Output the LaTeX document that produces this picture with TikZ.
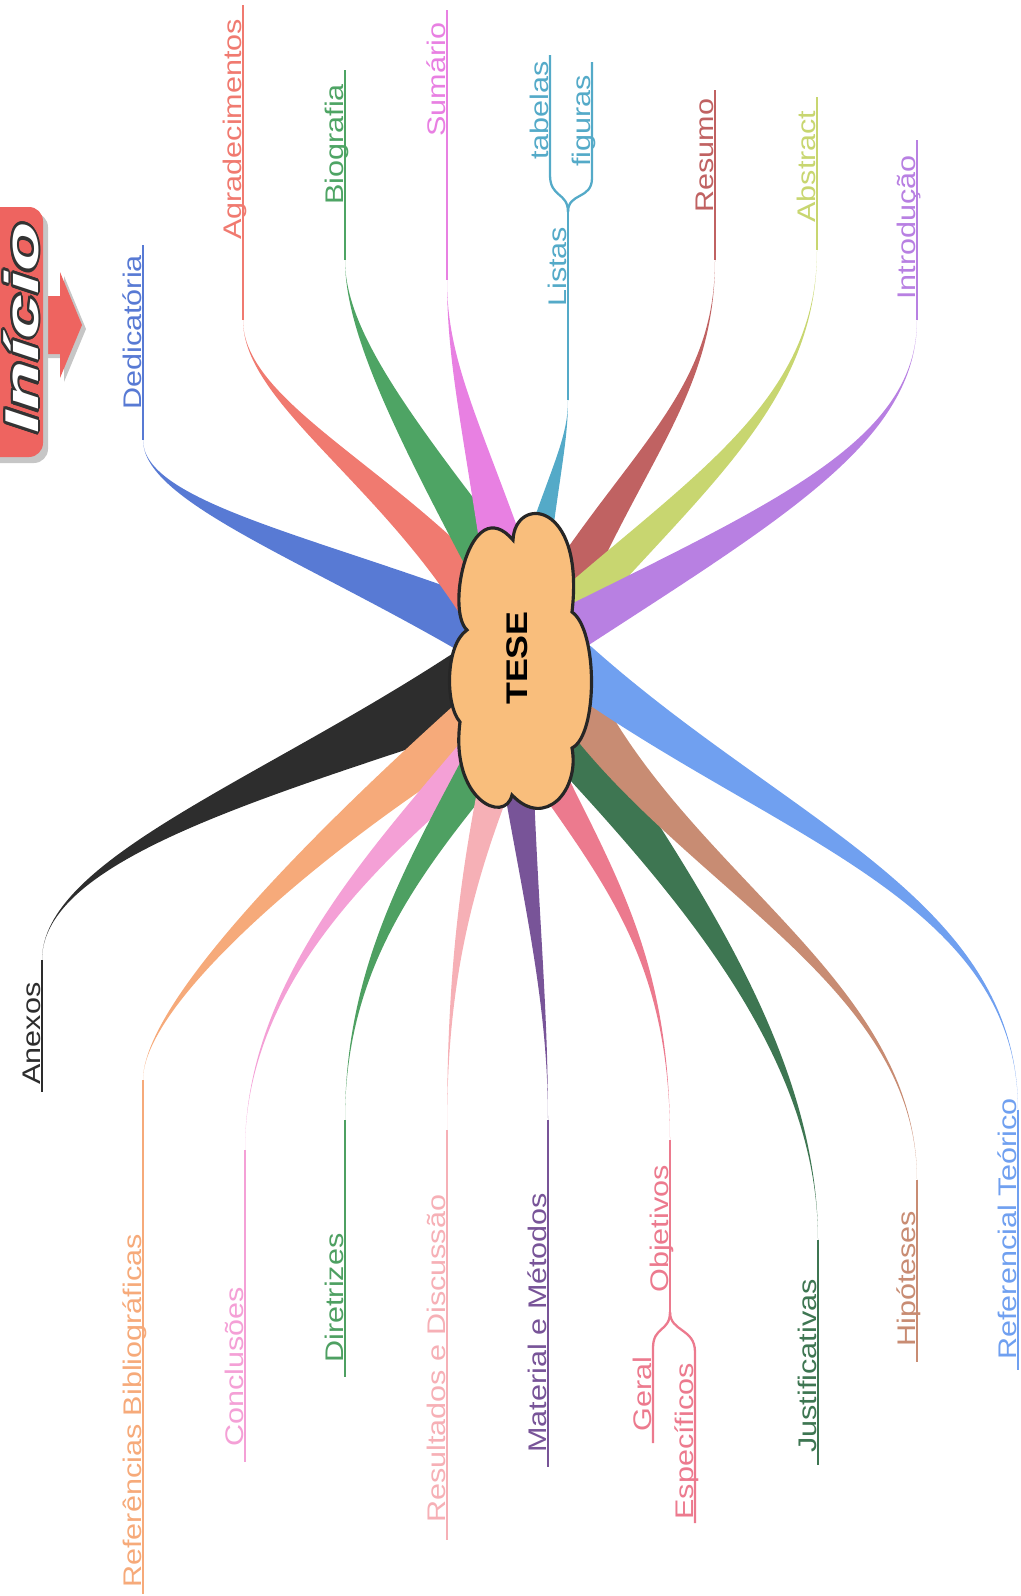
\documentclass[tikz,border=0pt]{standalone}
\usepackage{fontspec}
\setmainfont{Liberation Sans}
\newfontfamily\lblfont[FakeStretch=1.2]{Liberation Sans}
\usepackage{graphicx}
\usepackage[copies]{contour}
\contourlength{1.1pt}
\usepackage{tikz}
\usetikzlibrary{calc}

\definecolor{cDed}{RGB}{88,122,212}
\definecolor{cAgr}{RGB}{240,122,112}
\definecolor{cBio}{RGB}{78,164,100}
\definecolor{cSum}{RGB}{232,128,226}
\definecolor{cLis}{RGB}{84,170,200}
\definecolor{cRes}{RGB}{192,98,98}
\definecolor{cAbs}{RGB}{200,214,112}
\definecolor{cInt}{RGB}{184,128,226}
\definecolor{cAne}{RGB}{45,45,45}
\definecolor{cRBi}{RGB}{246,170,122}
\definecolor{cCon}{RGB}{244,160,214}
\definecolor{cDir}{RGB}{78,160,98}
\definecolor{cRDi}{RGB}{246,176,182}
\definecolor{cMat}{RGB}{120,84,152}
\definecolor{cObj}{RGB}{236,122,142}
\definecolor{cJus}{RGB}{62,118,82}
\definecolor{cHip}{RGB}{200,140,115}
\definecolor{cRTe}{RGB}{112,160,240}
\definecolor{cloudfill}{RGB}{249,190,124}
\definecolor{inired}{RGB}{238,100,96}

% colour, half width at start, half width at first control, start, first control, second control, end
\newcommand{\ribbon}[7]{%
  \fill[#1] ($(#4)!#2!90:(#5)$) .. controls ($(#5)!#3!-90:(#4)$) and (#6) .. (#7)
    .. controls (#6) and ($(#5)!#3!90:(#4)$) .. ($(#4)!#2!-90:(#5)$) -- cycle;}

\begin{document}
\begin{tikzpicture}[x=0.02cm, y=0.02cm,
    lbl/.style={rotate=90, anchor=base west, font=\lblfont\fontsize{14.5}{17}\selectfont},
    twig/.style={line width=1.3pt}]
			\tikzstyle{every node}+=[inner sep=0pt]
			\useasboundingbox (0,0) rectangle (1021,-1596);
			% start
			\fill [gray!45] (47,-300) -- (64,-300) -- (64,-276) -- (86,-329) -- (64,-382) -- (64,-358) -- (47,-358) -- cycle;
			\fill [inired] (43,-296) -- (60,-296) -- (60,-272) -- (82,-325) -- (60,-378) -- (60,-354) -- (43,-354) -- cycle;
			\fill [gray!45, rounded corners=8] (-20,-213) rectangle (48,-463);
			\fill [inired, rounded corners=8] (-20,-207) rectangle (43,-457);
			\node [rotate=90, text=white, font=\fontsize{27}{30}\selectfont\bfseries\itshape] (inicio) at (22,-328) {\scalebox{1.7}[1]{\contour{black!80}{Início}}};
			% end points of the ribbons
			\coordinate (dedA) at (143,-440);
			\coordinate (agrA) at (243,-320);
			\coordinate (bioA) at (345,-260);
			\coordinate (sumA) at (447,-280);
			\coordinate (lisA) at (568,-400);
			\coordinate (resA) at (715,-260);
			\coordinate (absA) at (817,-250);
			\coordinate (intA) at (917,-320);
			\coordinate (aneA) at (42,-960);
			\coordinate (rbiA) at (143,-1080);
			\coordinate (conA) at (245,-1150);
			\coordinate (dirA) at (345,-1120);
			\coordinate (rdiA) at (447,-1130);
			\coordinate (matA) at (548,-1120);
			\coordinate (objA) at (670,-1140);
			\coordinate (jusA) at (818,-1240);
			\coordinate (hipA) at (917,-1180);
			\coordinate (rteA) at (1018,-1110);
			% ribbons
			\ribbon{cDed}{16pt}{7pt}{470,-625}{300,-545}{143,-500}{dedA}
			\ribbon{cAgr}{14pt}{6pt}{480,-600}{380,-470}{243,-400}{agrA}
			\ribbon{cBio}{14pt}{6pt}{490,-560}{400,-420}{345,-330}{bioA}
			\ribbon{cSum}{13pt}{5pt}{505,-560}{470,-420}{447,-360}{sumA}
			\ribbon{cLis}{8pt}{3pt}{535,-560}{555,-470}{568,-440}{lisA}
			\ribbon{cRes}{13pt}{5pt}{560,-600}{640,-450}{715,-390}{resA}
			\ribbon{cAbs}{12pt}{5pt}{565,-615}{700,-480}{817,-400}{absA}
			\ribbon{cInt}{13pt}{5pt}{570,-630}{780,-510}{917,-440}{intA}
			\ribbon{cAne}{22pt}{5pt}{470,-688}{260,-790}{42,-860}{aneA}
			\ribbon{cRBi}{16pt}{6pt}{485,-715}{330,-830}{143,-1000}{rbiA}
			\ribbon{cCon}{12pt}{4pt}{490,-740}{380,-850}{245,-980}{conA}
			\ribbon{cDir}{13pt}{5pt}{495,-745}{420,-860}{345,-960}{dirA}
			\ribbon{cRDi}{11pt}{4pt}{505,-750}{465,-880}{447,-980}{rdiA}
			\ribbon{cMat}{10pt}{4pt}{515,-750}{530,-900}{548,-1000}{matA}
			\ribbon{cObj}{10pt}{4pt}{540,-760}{610,-880}{670,-960}{objA}
			\ribbon{cJus}{17pt}{7pt}{555,-720}{680,-880}{818,-1050}{jusA}
			\ribbon{cHip}{14pt}{5pt}{570,-690}{680,-880}{917,-980}{hipA}
			\ribbon{cRTe}{14pt}{6pt}{575,-665}{780,-830}{1018,-900}{rteA}
			% free ends of the lines
			\coordinate (dedB) at (143,-245);
			\coordinate (agrB) at (243,-5);
			\coordinate (bioB) at (345,-70);
			\coordinate (sumB) at (447,-10);
			\coordinate (lisB) at (568,-212);
			\coordinate (tabB) at (550,-55);
			\coordinate (figB) at (592,-62);
			\coordinate (resB) at (715,-90);
			\coordinate (absB) at (817,-97);
			\coordinate (intB) at (917,-140);
			\coordinate (aneB) at (42,-1092);
			\coordinate (rbiB) at (143,-1594);
			\coordinate (conB) at (245,-1462);
			\coordinate (dirB) at (345,-1377);
			\coordinate (rdiB) at (447,-1540);
			\coordinate (matB) at (548,-1467);
			\coordinate (objB) at (670,-1312);
			\coordinate (gerB) at (653,-1443);
			\coordinate (espB) at (695,-1523);
			\coordinate (jusB) at (818,-1465);
			\coordinate (hipB) at (917,-1362);
			\coordinate (rteB) at (1018,-1370);
			% lines
			\draw [twig, cDed] (dedA) -- (dedB);
			\draw [twig, cAgr] (agrA) -- (agrB);
			\draw [twig, cBio] (bioA) -- (bioB);
			\draw [twig, cSum] (sumA) -- (sumB);
			\draw [twig, cLis] (lisA) -- (lisB);
			\draw [twig, cLis] (lisB) .. controls (568,-192) and (550,-198) .. (550,-175) -- (tabB);
			\draw [twig, cLis] (lisB) .. controls (568,-192) and (592,-200) .. (592,-178) -- (figB);
			\draw [twig, cRes] (resA) -- (resB);
			\draw [twig, cAbs] (absA) -- (absB);
			\draw [twig, cInt] (intA) -- (intB);
			\draw [twig, cAne] (aneA) -- (aneB);
			\draw [twig, cRBi] (rbiA) -- (rbiB);
			\draw [twig, cCon] (conA) -- (conB);
			\draw [twig, cDir] (dirA) -- (dirB);
			\draw [twig, cRDi] (rdiA) -- (rdiB);
			\draw [twig, cMat] (matA) -- (matB);
			\draw [twig, cObj] (objA) -- (objB);
			\draw [twig, cObj] (objB) .. controls (670,-1332) and (653,-1326) .. (653,-1348) -- (gerB);
			\draw [twig, cObj] (objB) .. controls (670,-1332) and (695,-1328) .. (695,-1352) -- (espB);
			\draw [twig, cJus] (jusA) -- (jusB);
			\draw [twig, cHip] (hipA) -- (hipB);
			\draw [twig, cRTe] (rteA) -- (rteB);
			% centre
			\draw [line width=1.8pt, black!85, fill=cloudfill] (513,-540)
			  .. controls (515,-495) and (585,-500) .. (572,-612)
			  .. controls (598,-630) and (598,-735) .. (572,-748)
			  .. controls (580,-790) and (545,-830) .. (512,-795)
			  .. controls (505,-825) and (450,-800) .. (460,-722)
			  .. controls (445,-705) and (445,-645) .. (467,-630)
			  .. controls (445,-610) and (470,-490) .. (513,-540) -- cycle;
			\node [rotate=90, font=\lblfont\fontsize{17}{20}\selectfont\bfseries] (tese) at (517,-658) {TESE};
			% labels
			\node [lbl, text=cDed] (ded) at (141,-410) {Dedicatória};
			\node [lbl, text=cAgr] (agr) at (241,-240) {Agradecimentos};
			\node [lbl, text=cBio] (bio) at (343,-205) {Biografia};
			\node [lbl, text=cSum] (sum) at (445,-137) {Sumário};
			\node [lbl, text=cLis] (lis) at (566,-307) {Listas};
			\node [lbl, text=cLis] (tab) at (548,-160) {tabelas};
			\node [lbl, text=cLis] (fig) at (590,-167) {figuras};
			\node [lbl, text=cRes] (res) at (713,-213) {Resumo};
			\node [lbl, text=cAbs] (abs) at (815,-223) {Abstract};
			\node [lbl, text=cInt] (int) at (915,-300) {Introdução};
			\node [lbl, text=cAne] (ane) at (40,-1085) {Anexos};
			\node [lbl, text=cRBi] (rbi) at (141,-1588) {Referências Bibliográficas};
			\node [lbl, text=cCon] (con) at (243,-1447) {Conclusões};
			\node [lbl, text=cDir] (dir) at (343,-1363) {Diretrizes};
			\node [lbl, text=cRDi] (rdi) at (445,-1523) {Resultados e Discussão};
			\node [lbl, text=cMat] (mat) at (546,-1453) {Material e Métodos};
			\node [lbl, text=cObj] (obj) at (668,-1293) {Objetivos};
			\node [lbl, text=cObj] (ger) at (651,-1432) {Geral};
			\node [lbl, text=cObj] (esp) at (693,-1520) {Específicos};
			\node [lbl, text=cJus] (jus) at (816,-1453) {Justificativas};
			\node [lbl, text=cHip] (hip) at (915,-1347) {Hipóteses};
			\node [lbl, text=cRTe] (rte) at (1016,-1360) {Referencial Teórico};
\end{tikzpicture}
\end{document}
